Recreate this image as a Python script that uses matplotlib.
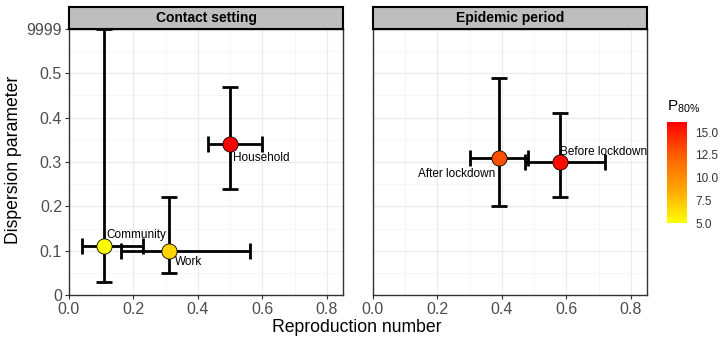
import matplotlib
matplotlib.use("Agg")
import matplotlib.pyplot as plt
from matplotlib.colors import LinearSegmentedColormap, Normalize
from matplotlib.cm import ScalarMappable
import numpy as np

plt.rcParams["font.family"] = ["Liberation Sans", "DejaVu Sans"]

# data
panels = ["Contact setting", "Epidemic period"]
labels = [["Community", "Work", "Household"], ["After lockdown", "Before lockdown"]]
r_est = [[0.11, 0.31, 0.50], [0.39, 0.58]]
r_lo = [[0.04, 0.16, 0.43], [0.30, 0.47]]
r_hi = [[0.23, 0.56, 0.60], [0.48, 0.72]]
k_est = [[0.11, 0.10, 0.34], [0.31, 0.30]]
k_lo = [[0.03, 0.05, 0.24], [0.20, 0.22]]
k_hi = [[0.60, 0.22, 0.47], [0.49, 0.41]]  # 0.6 on the axis stands for 9999
p80 = [[5.0, 6.8, 16.1], [13.0, 15.6]]
label_off = [[(0.005, 0.025, "left"), (0.02, -0.025, "left"), (0.01, -0.032, "left")],
             [(-0.01, -0.038, "right"), (0.0, 0.022, "left")]]

y_ticks = [0, 0.1, 0.2, 0.3, 0.4, 0.5, 0.6]
y_ticklabels = ["0", "0.1", "0.2", "0.3", "0.4", "0.5", "9999"]
x_ticks = [0.0, 0.2, 0.4, 0.6, 0.8]

cmap = LinearSegmentedColormap.from_list("yr", ["#FFFF00", "#FFA500", "#FF6000", "#FF0000"])
norm = Normalize(vmin=5.0, vmax=16.1)

fig = plt.figure(figsize=(7.28, 3.43), dpi=100)
W, H = 728, 343


def px_axes(x0, y0, x1, y1):
    return fig.add_axes([x0 / W, (H - y1) / H, (x1 - x0) / W, (y1 - y0) / H])


lefts = [69, 373]
for i, name in enumerate(panels):
    ax = px_axes(lefts[i], 29, lefts[i] + 274, 295)
    ax.set_xlim(0, 0.85)
    ax.set_ylim(0, 0.6)
    ax.set_xticks(x_ticks)
    ax.set_xticks(np.arange(0.1, 0.85, 0.2), minor=True)
    ax.set_yticks(y_ticks)
    ax.set_yticks(np.arange(0.05, 0.6, 0.1), minor=True)
    ax.grid(True, which="major", color="#EBEBEB", lw=0.9)
    ax.grid(True, which="minor", color="#F2F2F2", lw=0.5)
    ax.set_axisbelow(True)
    ax.set_xticklabels(["0.0", "0.2", "0.4", "0.6", "0.8"], fontsize=11.5, color="#4D4D4D")
    ax.tick_params(which="minor", length=0)
    ax.tick_params(which="major", length=3, color="#333333", pad=2)
    if i == 0:
        ax.set_yticklabels(y_ticklabels, fontsize=11.5, color="#4D4D4D")
    else:
        ax.tick_params(axis="y", which="major", length=0, labelleft=False)
    for s in ax.spines.values():
        s.set_color("#333333")
        s.set_linewidth(1.0)

    for j, lab in enumerate(labels[i]):
        x, y = r_est[i][j], k_est[i][j]
        ax.errorbar(x, y, yerr=[[y - k_lo[i][j]], [k_hi[i][j] - y]], fmt="none",
                    ecolor="black", elinewidth=2, capsize=6, capthick=2, zorder=2)
        ax.errorbar(x, y, xerr=[[x - r_lo[i][j]], [r_hi[i][j] - x]], fmt="none",
                    ecolor="black", elinewidth=2, capsize=6, capthick=2, zorder=2)
        ax.scatter(x, y, s=120, color=cmap(norm(p80[i][j])), edgecolor="black",
                   linewidth=0.6, zorder=3)
        dx, dy, ha = label_off[i][j]
        ax.text(x + dx, y + dy, lab, fontsize=8.5, ha=ha, va="center", zorder=4)

    sx = px_axes(lefts[i], 7, lefts[i] + 274, 29)
    sx.set_facecolor("#BEBEBE")
    sx.set_xticks([])
    sx.set_yticks([])
    for s in sx.spines.values():
        s.set_color("black")
        s.set_linewidth(1.5)
    sx.text(0.5, 0.5, name, transform=sx.transAxes, ha="center", va="center",
            fontsize=10, fontweight="bold")

fig.text(357 / W, 1 - 327 / H, "Reproduction number", ha="center", va="center", fontsize=12.7)
fig.text(13.5 / W, 1 - 160 / H, "Dispersion parameter", ha="center", va="center",
         rotation=90, fontsize=12.7)

cax = px_axes(667, 122, 687, 223)
cb = fig.colorbar(ScalarMappable(norm=norm, cmap=cmap), cax=cax)
cb.set_ticks([5.0, 7.5, 10.0, 12.5, 15.0])
cb.set_ticklabels(["5.0", "7.5", "10.0", "12.5", "15.0"])
cb.outline.set_visible(False)
cax.tick_params(length=3, color="white", labelsize=8.5, labelcolor="#333333", pad=3)
fig.text(667 / W, 1 - 107 / H, r"P$_{\mathregular{80\%}}$", fontsize=11, ha="left", va="center")

fig.savefig("out.png", dpi=100)
